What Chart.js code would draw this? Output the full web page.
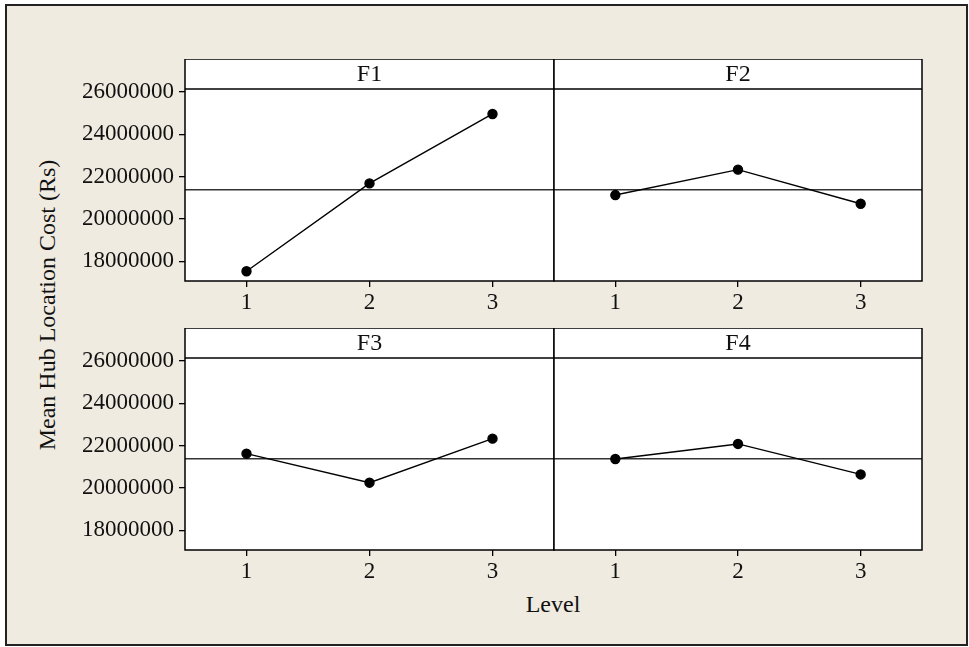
<!DOCTYPE html>
<html>
<head>
<meta charset="utf-8">
<script src="https://cdn.jsdelivr.net/npm/chart.js@4.4.0/dist/chart.umd.min.js"></script>
<style>
  html, body { margin: 0; padding: 0; background: #fff; }
  #frame {
    position: absolute; left: 5px; top: 4px; width: 963px; height: 642px;
    box-sizing: border-box; border: 2px solid #222; background: #efebe1;
  }
  .panel { position: absolute; }
  .txt { position: absolute; font-family: "Liberation Serif", serif; color: #111; white-space: nowrap; }
  #ytitle { left: 47px; top: 305px; font-size: 24px; transform: translate(-50%, -50%) rotate(-90deg); }
  #xtitle { left: 553px; top: 604px; font-size: 24px; transform: translate(-50%, -50%); }
</style>
</head>
<body>
<div id="frame"></div>
<div class="panel" style="left:70px; top:59px;"><canvas id="p1" width="486" height="262"></canvas></div>
<div class="panel" style="left:552px; top:59px;"><canvas id="p2" width="372" height="262"></canvas></div>
<div class="panel" style="left:70px; top:328px;"><canvas id="p3" width="486" height="262"></canvas></div>
<div class="panel" style="left:552px; top:328px;"><canvas id="p4" width="372" height="262"></canvas></div>
<div class="txt" id="ytitle">Mean Hub Location Cost (Rs)</div>
<div class="txt" id="xtitle">Level</div>
<script>
// Data
const levels = ["1", "2", "3"];
const f1 = [17530000, 21680000, 24960000];
const f2 = [21130000, 22330000, 20720000];
const f3 = [21620000, 20250000, 22330000];
const f4 = [21370000, 22080000, 20640000];
const grandMean = 21380000;
const yTicks = [18000000, 20000000, 22000000, 24000000, 26000000];
const yMin = 17070000;
const yMax = 26140000;

const stripH = 30;
const tickFont = { family: "Liberation Serif", size: 23 };

// white plot box, header strip, mean reference line
const panelBox = {
  id: "panelBox",
  beforeDraw(chart) {
    const { ctx, chartArea: a } = chart;
    ctx.save();
    ctx.fillStyle = "#fff";
    ctx.fillRect(a.left, a.top - stripH, a.right - a.left, a.bottom - a.top + stripH);
    ctx.restore();
  },
  beforeDatasetsDraw(chart) {
    const { ctx, chartArea: a } = chart;
    const y = chart.scales.y.getPixelForValue(grandMean);
    ctx.save();
    ctx.strokeStyle = "#333";
    ctx.lineWidth = 1.3;
    ctx.beginPath();
    ctx.moveTo(a.left, y);
    ctx.lineTo(a.right, y);
    ctx.stroke();
    ctx.restore();
  },
  afterDraw(chart, args, opts) {
    const { ctx, chartArea: a } = chart;
    ctx.save();
    ctx.strokeStyle = "#000";
    ctx.lineWidth = 1.5;
    ctx.strokeRect(a.left, a.top - stripH, a.right - a.left, a.bottom - a.top + stripH);
    ctx.beginPath();
    ctx.moveTo(a.left, a.top);
    ctx.lineTo(a.right, a.top);
    ctx.stroke();
    ctx.fillStyle = "#111";
    ctx.font = "24px 'Liberation Serif'";
    ctx.textAlign = "center";
    ctx.textBaseline = "middle";
    ctx.fillText(opts.title, (a.left + a.right) / 2, a.top - stripH / 2 + 1);
    ctx.restore();
  },
};

function makePanel(id, title, values, showY) {
  return new Chart(document.getElementById(id), {
    type: "line",
    data: {
      labels: levels,
      datasets: [
        {
          data: values,
          borderColor: "#000",
          borderWidth: 1.4,
          pointRadius: 4.5,
          pointBackgroundColor: "#000",
          pointBorderColor: "#000",
          tension: 0,
          fill: false,
        },
      ],
    },
    options: {
      responsive: false,
      animation: false,
      layout: {
        autoPadding: false,
        padding: { top: stripH, right: 2, left: showY ? 0 : 2, bottom: 0 },
      },
      plugins: {
        legend: { display: false },
        tooltip: { enabled: false },
        panelBox: { title: title },
      },
      scales: {
        x: {
          type: "category",
          offset: true,
          grid: { drawOnChartArea: false, offset: false, tickLength: 6, color: "#000", lineWidth: 1.3 },
          border: { display: false },
          afterFit: (s) => {
            s.height = 40;
            s.paddingLeft = 0;
            s.paddingRight = 0;
          },
          ticks: { font: tickFont, color: "#111", padding: 2, maxRotation: 0 },
        },
        y: {
          display: showY,
          min: yMin,
          max: yMax,
          afterBuildTicks: (s) => { s.ticks = yTicks.map((v) => ({ value: v })); },
          afterFit: (s) => {
            if (showY) s.width = 115;
          },
          grid: { drawOnChartArea: false, tickLength: 6, color: "#000", lineWidth: 1.3 },
          border: { display: false },
          ticks: { font: tickFont, color: "#111", padding: 5, callback: (v) => String(v) },
        },
      },
    },
    plugins: [panelBox],
  });
}

makePanel("p1", "F1", f1, true);
makePanel("p2", "F2", f2, false);
makePanel("p3", "F3", f3, true);
makePanel("p4", "F4", f4, false);
</script>
</body>
</html>
